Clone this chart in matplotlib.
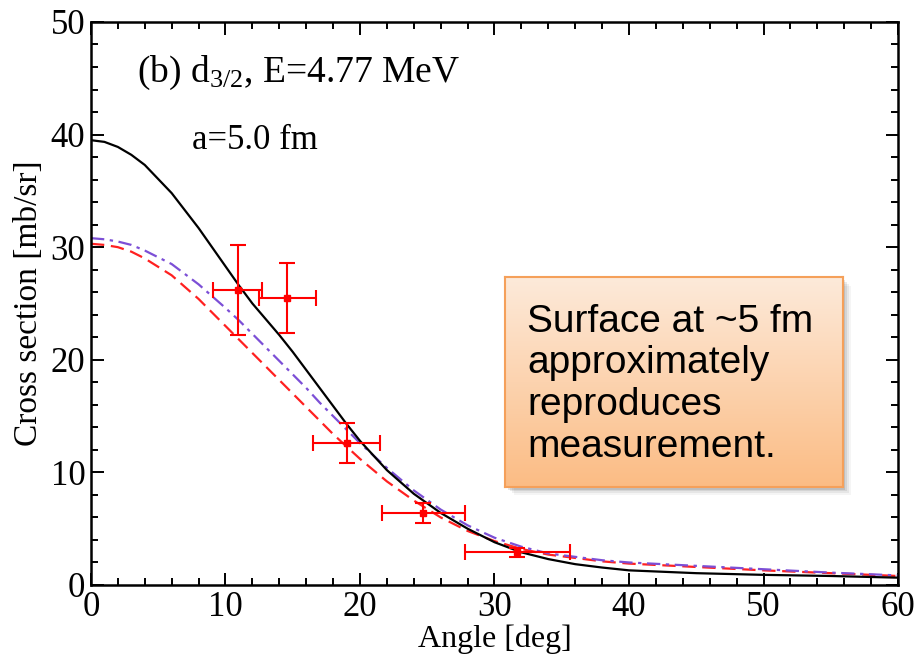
import numpy as np
import matplotlib
matplotlib.use("Agg")
import matplotlib.pyplot as plt
from matplotlib.ticker import MultipleLocator
from matplotlib.patches import Rectangle

plt.rcParams['font.family'] = ['Liberation Serif', 'DejaVu Serif']
plt.rcParams['mathtext.fontset'] = 'custom'
plt.rcParams['mathtext.rm'] = 'Liberation Serif'
plt.rcParams['mathtext.it'] = 'Liberation Serif:italic'

# calculated cross sections (angle in deg, sigma in mb/sr)
angle_calc = [0, 1, 2, 3, 4, 6, 8, 10, 11, 12, 13, 14, 15, 16, 17, 18, 19, 20,
              22, 24, 26, 28, 30, 32, 34, 36, 38, 40, 45, 50, 55, 60]
sigma_black = [39.5, 39.35, 38.9, 38.2, 37.3, 34.8, 31.7, 28.3, 26.6, 25.0, 23.6,
               22.2, 20.7, 19.1, 17.5, 15.9, 14.3, 12.8, 10.2, 8.1, 6.4, 5.0,
               3.8, 2.9, 2.3, 1.85, 1.55, 1.3, 1.05, 0.9, 0.8, 0.65]
sigma_red = [30.3, 30.2, 30.0, 29.6, 29.0, 27.5, 25.4, 23.0, 21.8, 20.6, 19.4,
             18.2, 17.0, 15.8, 14.6, 13.4, 12.3, 11.2, 9.2, 7.5, 6.0, 4.8,
             3.9, 3.2, 2.7, 2.4, 2.1, 1.9, 1.6, 1.3, 1.05, 0.8]
sigma_purple = [30.8, 30.7, 30.5, 30.2, 29.7, 28.5, 26.7, 24.6, 23.5, 22.3, 21.1,
                19.9, 18.7, 17.5, 16.2, 15.0, 13.8, 12.6, 10.4, 8.4, 6.7, 5.3,
                4.2, 3.4, 2.8, 2.5, 2.2, 2.0, 1.7, 1.4, 1.1, 0.85]

# measured points
angle_exp = [10.9, 14.6, 19.0, 24.7, 31.7]
angle_err = [1.8, 2.1, 2.5, 3.1, 3.9]
sigma_exp = [26.2, 25.5, 12.6, 6.4, 2.9]
sigma_err = [4.0, 3.1, 1.8, 0.9, 0.4]

fig = plt.figure(figsize=(9.17, 6.57), dpi=100)
ax = fig.add_axes([0.0992, 0.1096, 0.8801, 0.857])

ax.plot(angle_calc, sigma_black, color='black', lw=1.6, zorder=3)
ax.plot(angle_calc, sigma_red, color='#ff2020', lw=1.6, dashes=(6, 3), zorder=2)
ax.plot(angle_calc, sigma_purple, color='#7c4fd6', lw=1.6, dashes=(6, 2.5, 1.5, 2.5), zorder=2)
ax.errorbar(angle_exp, sigma_exp, xerr=angle_err, yerr=sigma_err, fmt='s',
            color='#ff0000', ms=5, lw=1.5, capsize=5.5, capthick=1.5, zorder=4)

ax.set_xlim(0, 60)
ax.set_ylim(0, 50)
ax.xaxis.set_major_locator(MultipleLocator(10))
ax.xaxis.set_minor_locator(MultipleLocator(2))
ax.yaxis.set_major_locator(MultipleLocator(10))
ax.yaxis.set_minor_locator(MultipleLocator(2))
ax.tick_params(which='both', direction='in', top=True, right=True, width=1.4,
               labelsize=25, pad=4)
ax.tick_params(which='major', length=9)
ax.tick_params(which='minor', length=5)
for sp in ax.spines.values():
    sp.set_linewidth(1.8)

ax.set_xlabel('Angle [deg]', fontsize=23, labelpad=1)
ax.set_ylabel('Cross section [mb/sr]', fontsize=24, labelpad=5)

ax.text(0.057, 0.91, r'(b) d$_{3/2}$, E=4.77 MeV', transform=ax.transAxes,
        fontsize=27, va='center', ha='left')
ax.text(0.125, 0.79, 'a=5.0 fm', transform=ax.transAxes,
        fontsize=25, va='center', ha='left')

# note box with orange gradient and soft shadow
bx, by, bw, bh = 0.551, 0.259, 0.368, 0.319
for i, a in enumerate([0.10, 0.08, 0.06, 0.04]):
    off = 0.003 + i * 0.002
    fig.patches.append(Rectangle((bx + off, by - off * 1.4), bw, bh,
                                 transform=fig.transFigure, color='black',
                                 alpha=a, lw=0, zorder=5))
bax = fig.add_axes([bx, by, bw, bh], zorder=6)
grad = np.linspace(0, 1, 256).reshape(-1, 1)
top_c = np.array([253, 234, 218]) / 255
bot_c = np.array([251, 188, 132]) / 255
img = top_c[None, None, :] * (1 - grad[..., None]) + bot_c[None, None, :] * grad[..., None]
bax.imshow(img, aspect='auto', extent=[0, 1, 0, 1])
bax.set_xticks([])
bax.set_yticks([])
for sp in bax.spines.values():
    sp.set_color('#f5a05a')
    sp.set_linewidth(1.5)
bax.text(0.065, 0.49, 'Surface at ~5 fm\napproximately\nreproduces\nmeasurement.',
         family='Liberation Sans', fontsize=28, va='center', ha='left',
         linespacing=1.2)

fig.savefig('out.png', dpi=100)
